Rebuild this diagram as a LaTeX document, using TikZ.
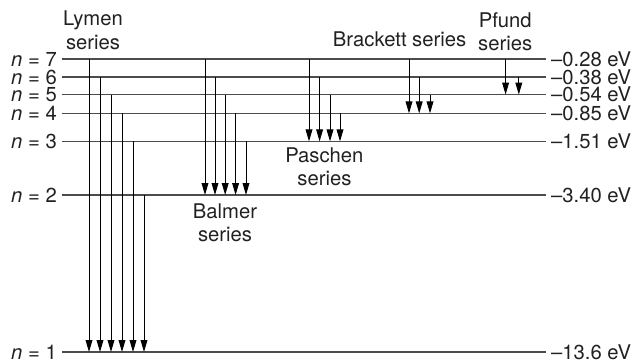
\documentclass[tikz,border=0pt]{standalone}
\usepackage{fontspec}
\setmainfont{TeX Gyre Heros}
\usepackage{tikz}
\usetikzlibrary{arrows.meta}
\usetikzlibrary{positioning}
\definecolor{mgray}{rgb}{0.3, 0.3, 0.3}
\definecolor{mtext}{rgb}{0.13, 0.13, 0.13}
\newcommand{\twoline}[2]{\begin{tabular}[t]{@{}c@{}}#1\\#2\end{tabular}}
\tikzset{lvl/.style = {text = mtext, inner xsep = 3.5pt, inner ysep = 0, font = \fontsize{14.4}{17}\selectfont}}
\tikzset{series/.style = {text = mtext, inner sep = 0, anchor = base, font = \fontsize{14.4}{17}\selectfont}}
\tikzset{level/.style = {mgray, line width = 0.9pt}}
\tikzset{trans/.style = {black, line width = 0.7pt, -{Triangle[length = 8.5pt, width = 4.8pt]}}}

\begin{document}
\begin{tikzpicture}
      \useasboundingbox (0, 0) rectangle (15.925, 9.025);
      \foreach \n/\y/\e in {7/7.55/0.28, 6/7.1/0.38, 5/6.66/0.54, 4/6.19/0.85, 3/5.49/1.51, 2/4.15/3.40, 1/0.225/13.6} {
        \node [lvl, anchor = east] (l\n) at (1.55, \y) {\textit{n} = \n};
        \node [lvl, anchor = west] (r\n) at (13.65, \y) {--\e{} eV};
        \draw [level] (l\n) -- (r\n);
      }

      % Lymen
      \foreach \x/\a in {2.225/7, 2.5/6, 2.775/5, 3.05/4, 3.325/3, 3.6/2}
        \draw [trans] (\x,0 |- l\a) -- (\x,0 |- l1);
      % Balmer
      \foreach \x/\a in {5.125/7, 5.375/6, 5.63/5, 5.89/4, 6.15/3}
        \draw [trans] (\x,0 |- l\a) -- (\x,0 |- l2);
      % Paschen
      \foreach \x/\a in {7.725/7, 7.99/6, 8.25/5, 8.5/4}
        \draw [trans] (\x,0 |- l\a) -- (\x,0 |- l3);
      % Brackett
      \foreach \x/\a in {10.225/7, 10.48/6, 10.75/5}
        \draw [trans] (\x,0 |- l\a) -- (\x,0 |- l4);
      % Pfund
      \foreach \x/\a in {12.64/7, 12.97/6}
        \draw [trans] (\x,0 |- l\a) -- (\x,0 |- l5);

      \node [series] (lymen) at (2.325, 8.375) {\twoline{Lymen}{series}};
      \node [series] (balmer) at (5.625, 3.575) {\twoline{Balmer}{series}};
      \node [series] (paschen) at (8.11, 4.975) {\twoline{Paschen}{series}};
      \node [series] (brackett) at (9.99, 7.875) {Brackett series};
      \node [series] (pfund) at (12.63, 8.35) {\twoline{Pfund}{series}};
    \end{tikzpicture}
\end{document}
